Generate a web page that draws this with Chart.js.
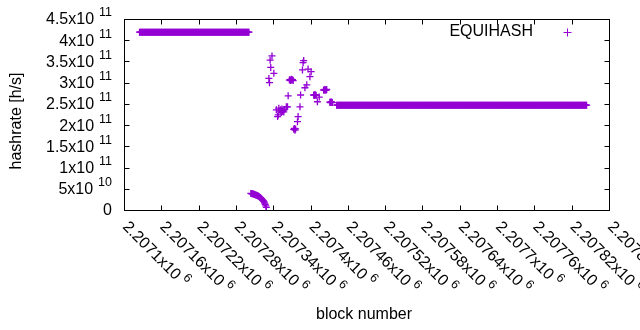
<!DOCTYPE html>
<html lang="en">
<head>
    <meta charset="UTF-8">
    <title>EQUIHASH hashrate</title>
    <script src="https://cdn.jsdelivr.net/npm/chart.js@4.4.0/dist/chart.umd.min.js"></script>
    <style>
        body { margin: 0; background: #fff; }
    </style>
</head>
<body>
    <canvas id="chart" width="640" height="330"></canvas>
    <script>
        // flat stretches: every block from start to end sits on the same value
        const runStart = [2207125, 2207442];
        const runEnd   = [2207301, 2207844];
        const runValue = [4.19e11, 2.47e11];

        // the falling tail just after the first stretch
        const tailBlocks = [2207304, 2207305, 2207306, 2207307, 2207308, 2207309, 2207310, 2207311, 2207312,
            2207313, 2207314, 2207315, 2207316, 2207317, 2207318, 2207319, 2207320, 2207321, 2207322,
            2207323, 2207324, 2207325, 2207326, 2207327, 2207328, 2207329];
        const tailValues = [3.90e10, 3.87e10, 3.83e10, 3.80e10, 3.76e10, 3.72e10, 3.67e10, 3.60e10, 3.55e10,
            3.48e10, 3.42e10, 3.35e10, 3.28e10, 3.18e10, 3.05e10, 2.92e10, 2.80e10, 2.65e10, 2.50e10,
            2.35e10, 2.20e10, 1.95e10, 1.70e10, 1.35e10, 0.95e10, 0.60e10];

        // scattered blocks in between
        const scatterBlocks = [2207333, 2207334, 2207335, 2207336, 2207338, 2207341,
            2207345, 2207347, 2207348, 2207349, 2207351, 2207352, 2207353, 2207354, 2207355, 2207356, 2207357, 2207358,
            2207361, 2207363, 2207364,
            2207366, 2207367, 2207368, 2207369, 2207370, 2207371, 2207372,
            2207373, 2207374, 2207375, 2207376, 2207379, 2207380, 2207383, 2207384,
            2207387, 2207388, 2207389, 2207391, 2207394, 2207396, 2207399, 2207401,
            2207405, 2207406, 2207407, 2207408, 2207409, 2207411, 2207414,
            2207421, 2207422, 2207423, 2207424, 2207425, 2207426,
            2207431, 2207432, 2207433, 2207434, 2207435];
        const scatterValues = [3.10e11, 3.00e11, 3.53e11, 3.36e11, 3.63e11, 3.22e11,
            2.36e11, 2.20e11, 2.24e11, 2.40e11, 2.33e11, 2.36e11, 2.30e11, 2.38e11, 2.32e11, 2.35e11, 2.31e11, 2.37e11,
            2.43e11, 2.43e11, 2.69e11,
            3.06e11, 3.07e11, 3.05e11, 3.08e11, 3.06e11, 3.07e11, 3.05e11,
            1.90e11, 1.92e11, 1.88e11, 1.91e11, 2.08e11, 2.20e11, 2.43e11, 2.71e11,
            3.30e11, 3.47e11, 3.52e11, 2.88e11, 2.95e11, 3.32e11, 3.14e11, 3.26e11,
            2.71e11, 2.70e11, 2.72e11, 2.71e11, 2.70e11, 2.55e11, 2.66e11,
            2.83e11, 2.82e11, 2.84e11, 2.83e11, 2.82e11, 2.84e11,
            2.54e11, 2.53e11, 2.55e11, 2.54e11, 2.53e11];

        const xTickValues = [2207100, 2207160, 2207220, 2207280, 2207340, 2207400, 2207460,
            2207520, 2207580, 2207640, 2207700, 2207760, 2207820, 2207880];
        const xTickText = ['2.2071x10', '2.20716x10', '2.20722x10', '2.20728x10', '2.20734x10', '2.2074x10', '2.20746x10',
            '2.20752x10', '2.20758x10', '2.20764x10', '2.2077x10', '2.20776x10', '2.20782x10', '2.20788x10'];
        const xTickExp = ['6', '6', '6', '6', '6', '6', '6', '6', '6', '6', '6', '6', '6', '6'];

        const yTickValues = [0, 5e10, 1e11, 1.5e11, 2e11, 2.5e11, 3e11, 3.5e11, 4e11, 4.5e11];
        const yTickText = ['0', '5x10', '1x10', '1.5x10', '2x10', '2.5x10', '3x10', '3.5x10', '4x10', '4.5x10'];
        const yTickExp = ['', '10', '11', '11', '11', '11', '11', '11', '11', '11'];

        const points = [];
        for (let r = 0; r < runStart.length; r++) {
            for (let b = runStart[r]; b <= runEnd[r]; b++) points.push({ x: b, y: runValue[r] });
        }
        tailBlocks.forEach((b, i) => points.push({ x: b, y: tailValues[i] }));
        scatterBlocks.forEach((b, i) => points.push({ x: b, y: scatterValues[i] }));

        const FONT = '"Liberation Sans", Arial, sans-serif';
        const violet = '#9400d3';

        const frame = {
            id: 'frame',
            afterDraw(chart) {
                const ctx = chart.ctx;
                const a = chart.chartArea;
                const xs = chart.scales.x, ys = chart.scales.y;
                const L = Math.round(a.left) + 0.5, R = Math.round(a.right) + 0.5;
                const T = Math.round(a.top) + 0.5, B = Math.round(a.bottom) + 0.5;
                const tick = 5;
                ctx.save();
                ctx.strokeStyle = '#000';
                ctx.lineWidth = 1;
                ctx.beginPath();
                xTickValues.forEach(v => {
                    const px = Math.round(xs.getPixelForValue(v)) + 0.5;
                    ctx.moveTo(px, B); ctx.lineTo(px, B - tick);
                    ctx.moveTo(px, T); ctx.lineTo(px, T + tick);
                });
                yTickValues.forEach(v => {
                    const py = Math.round(ys.getPixelForValue(v)) + 0.5;
                    ctx.moveTo(L, py); ctx.lineTo(L + tick, py);
                    ctx.moveTo(R, py); ctx.lineTo(R - tick, py);
                });
                ctx.stroke();
                ctx.strokeRect(L, T, R - L, B - T);

                ctx.fillStyle = '#000';
                // y labels
                ctx.textBaseline = 'middle';
                ctx.textAlign = 'right';
                yTickValues.forEach((v, i) => {
                    const py = ys.getPixelForValue(v);
                    let right = 112;
                    if (yTickExp[i]) {
                        ctx.font = '12.5px ' + FONT;
                        ctx.fillText(yTickExp[i], right, py - 6);
                        right -= ctx.measureText(yTickExp[i]).width + 5;
                    }
                    ctx.font = '16px ' + FONT;
                    ctx.fillText(yTickText[i], right, py + 1);
                });

                // x labels, rotated down to the right
                ctx.textAlign = 'left';
                xTickValues.forEach((v, i) => {
                    const px = xs.getPixelForValue(v);
                    ctx.save();
                    ctx.translate(px + 1, B + 14);
                    ctx.rotate(Math.PI / 4);
                    ctx.font = '16px ' + FONT;
                    ctx.fillText(xTickText[i], 0, 0);
                    const w = ctx.measureText(xTickText[i]).width;
                    ctx.font = '12.5px ' + FONT;
                    ctx.fillText(xTickExp[i], w + 4, -6);
                    ctx.restore();
                });

                // axis titles
                ctx.font = '16px ' + FONT;
                ctx.textAlign = 'center';
                ctx.fillText('block number', 364, 315);
                ctx.save();
                ctx.translate(17, 121);
                ctx.rotate(-Math.PI / 2);
                ctx.fillText('hashrate [h/s]', 0, 0);
                ctx.restore();

                // key
                ctx.textAlign = 'right';
                ctx.fillText('EQUIHASH', 533, 32);
                ctx.strokeStyle = violet;
                ctx.beginPath();
                ctx.moveTo(563.5, 32.5); ctx.lineTo(571.5, 32.5);
                ctx.moveTo(567.5, 28.5); ctx.lineTo(567.5, 36.5);
                ctx.stroke();
                ctx.restore();
            }
        };

        new Chart(document.getElementById('chart').getContext('2d'), {
            type: 'scatter',
            data: {
                datasets: [{
                    label: 'EQUIHASH',
                    data: points,
                    pointStyle: 'cross',
                    pointRadius: 3.5,
                    pointBorderWidth: 1.3,
                    borderColor: violet,
                    backgroundColor: violet,
                    showLine: false
                }]
            },
            options: {
                responsive: false,
                animation: false,
                layout: { padding: { left: 124, top: 19, right: 31, bottom: 120 } },
                plugins: { legend: { display: false }, tooltip: { enabled: false } },
                scales: {
                    x: { type: 'linear', min: 2207100, max: 2207880, display: false },
                    y: { type: 'linear', min: 0, max: 4.5e11, display: false }
                }
            },
            plugins: [frame]
        });
    </script>
</body>
</html>
